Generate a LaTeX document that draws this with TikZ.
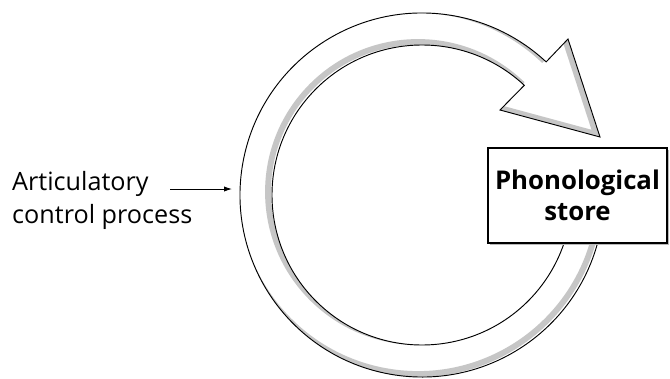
\documentclass[tikz,border=0pt]{standalone}
\usepackage{fontspec}
\setmainfont{Open Sans}
\usetikzlibrary{arrows.meta,shadows}

\begin{document}
\begin{tikzpicture}[x=0.03cm,y=0.03cm,
  lbl/.style={font=\fontsize{21.5}{28.5}\selectfont,align=left,inner sep=0pt},
  storebox/.style={draw,fill=white,line width=0.9pt,minimum width=5.37cm,minimum height=2.85cm,
    align=center,font=\fontsize{22}{26}\selectfont\bfseries,
    drop shadow={shadow xshift=2pt,shadow yshift=-2pt,fill=gray!55,opacity=1}},
  a/.style={-{Latex[length=2.4mm,width=1.6mm]},line width=0.8pt}]
\useasboundingbox (0,0) rectangle (670,378);
% loop with arrow head, centre of the loop is the origin
\def\ringpath{(-10:182) arc[start angle=-10,end angle=-313,radius=182]
  -- (146,156) -- (178,58) -- (78,85) -- (47:150)
  arc[start angle=47,end angle=350,radius=150] -- cycle}
\begin{scope}[shift={(422,183)}]
  \fill[white] \ringpath;
  \begin{scope}
    \clip \ringpath;
    \draw[gray!45,line width=5pt,shift={(-4,3)}] \ringpath;
  \end{scope}
  \draw[line width=0.8pt] \ringpath;
\end{scope}
\node[storebox] (store) at (577.5,182.5) {Phonological\\store};
\node[lbl,anchor=north west] (acp) at (12,207) {Articulatory\\control process};
\coordinate (acpout) at (170,189);
\coordinate (ringin) at (232,189);
\draw[a] (acpout) -- (ringin);
\end{tikzpicture}
\end{document}
